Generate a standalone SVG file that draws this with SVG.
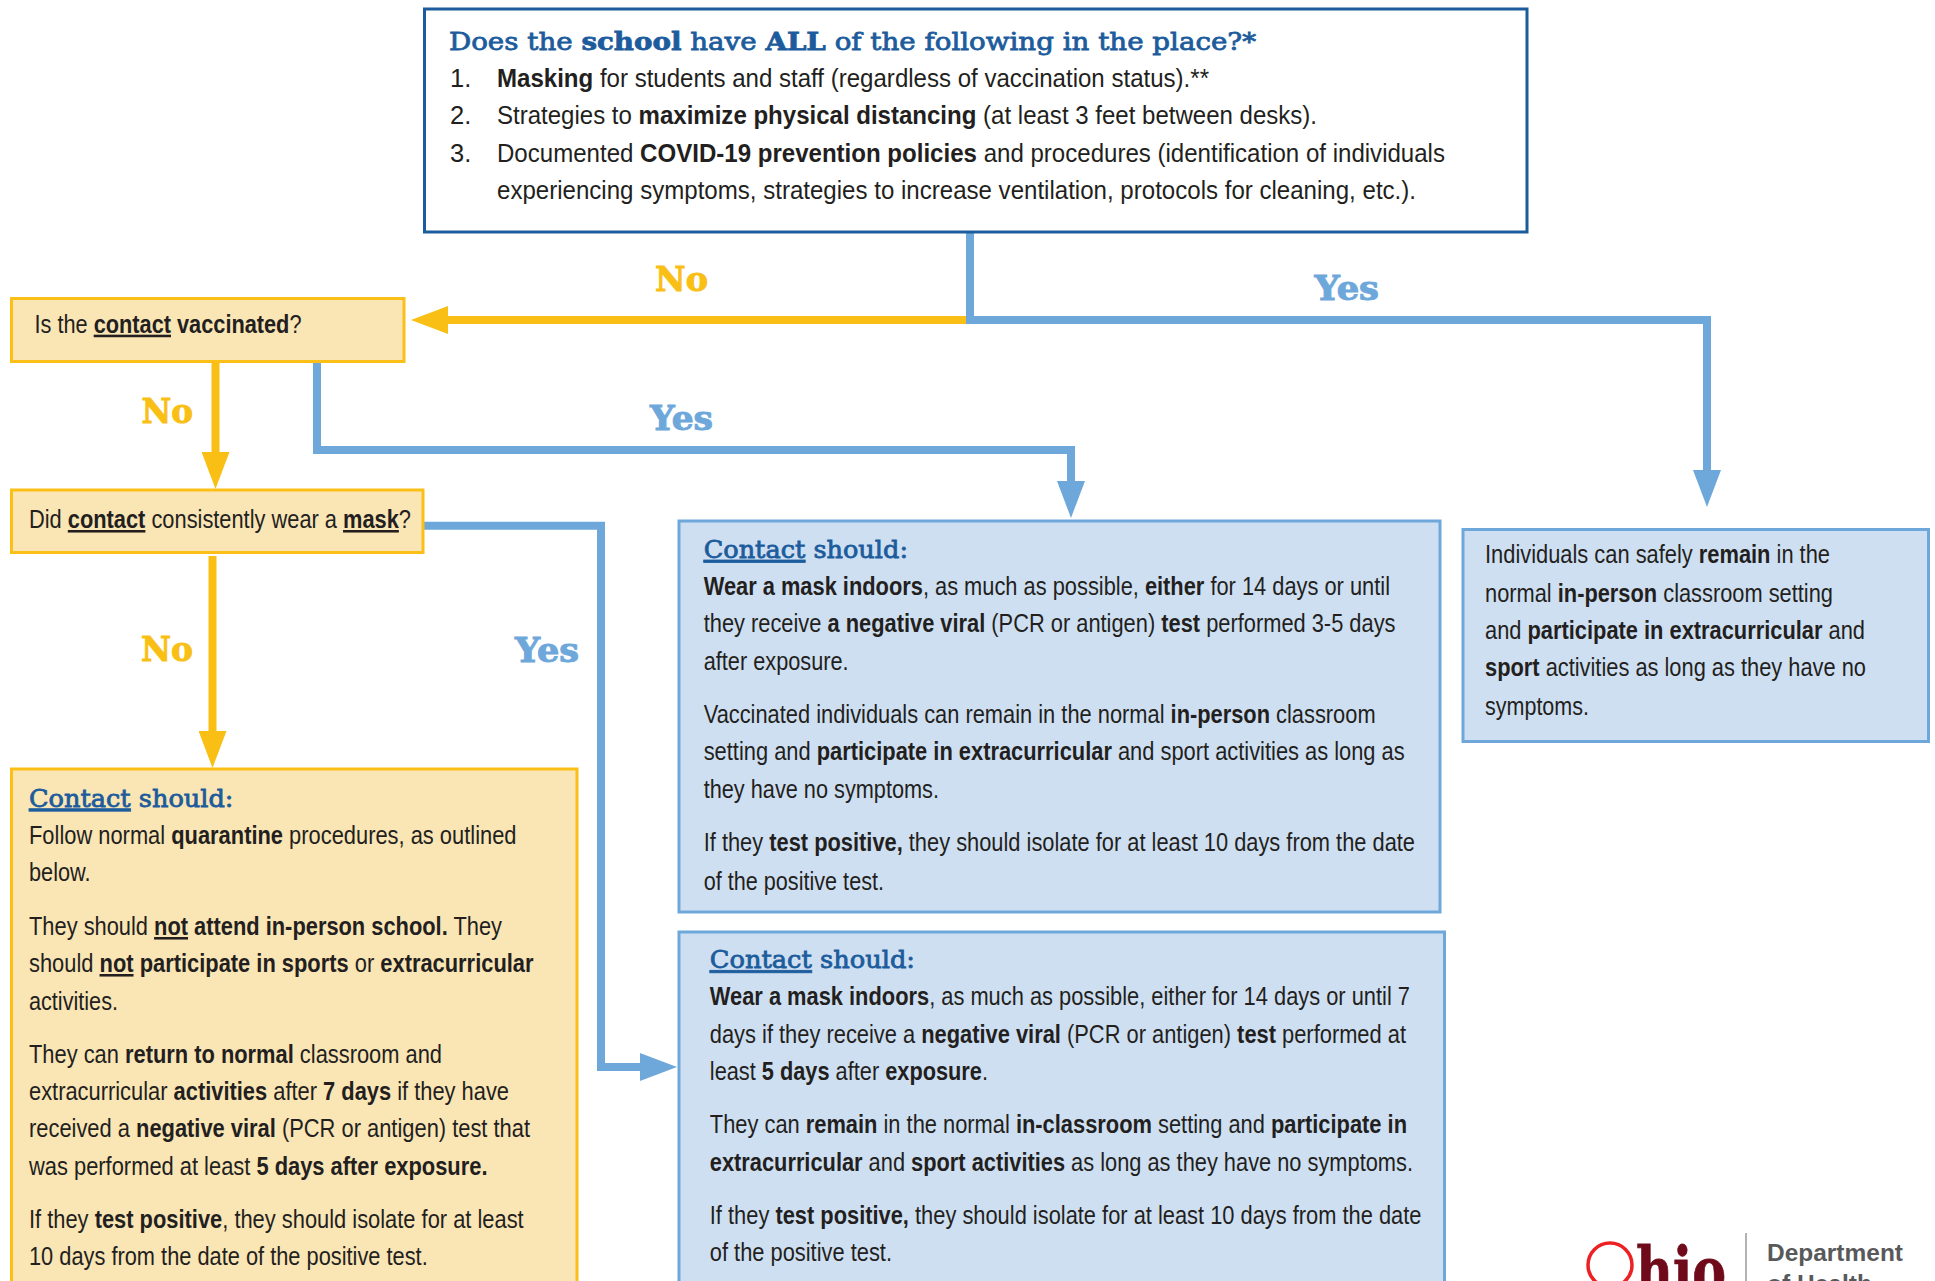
<svg xmlns="http://www.w3.org/2000/svg" width="1935" height="1281" viewBox="0 0 1935 1281">
<style>
text{font-family:"Liberation Sans",Arial,sans-serif;font-size:25.5px;fill:#231f20}
.b{font-weight:700}
.u{text-decoration:underline}
.head{font-family:"DejaVu Serif",serif;font-size:25px;fill:#1c5c9c;font-weight:400;stroke:#1c5c9c;stroke-width:.8}
.head .b{font-weight:700}
.lab{font-family:"DejaVu Serif",serif;font-weight:700;font-size:34px;stroke-width:1}
.ly{fill:#f9bf15;stroke:#f9bf15}
.lb{fill:#6ea8db;stroke:#6ea8db}
.yb{fill:#fae5b5;stroke:#fbbf17;stroke-width:3}
.bb{fill:#cfdff2;stroke:#6ea8db;stroke-width:3}
.cy{fill:none;stroke:#f9bf15;stroke-width:8}
.cb{fill:none;stroke:#6ea8db;stroke-width:8}
</style>
<defs>
<marker id="ay" markerUnits="userSpaceOnUse" markerWidth="37" markerHeight="28" refX="0" refY="14" orient="auto"><path d="M0,0 L37,14 L0,28 Z" fill="#f9bf15"/></marker>
<marker id="ab" markerUnits="userSpaceOnUse" markerWidth="37" markerHeight="28" refX="0" refY="14" orient="auto"><path d="M0,0 L37,14 L0,28 Z" fill="#6ea8db"/></marker>
</defs>
<rect width="1935" height="1281" fill="#fff"/>

<g id="connectors">
<path class="cb" d="M970,232 V320"/>
<path class="cy" d="M966,320 H448" marker-end="url(#ay)"/>
<path class="cb" d="M966,320 H1707 V470" marker-end="url(#ab)"/>
<path class="cy" d="M215.500,362 V452" marker-end="url(#ay)"/>
<path class="cb" d="M317,362 V450 H1071 V481" marker-end="url(#ab)"/>
<path class="cy" d="M212.500,556 V731" marker-end="url(#ay)"/>
<path class="cb" d="M424,525.700 H601 V1067 H640" marker-end="url(#ab)"/>
<text class="lab ly" x="655" y="290.700" textLength="53" lengthAdjust="spacingAndGlyphs">No</text>
<text class="lab lb" x="1314.500" y="300" textLength="64.500" lengthAdjust="spacingAndGlyphs">Yes</text>
<text class="lab ly" x="141.500" y="422.700" textLength="51.500" lengthAdjust="spacingAndGlyphs">No</text>
<text class="lab lb" x="650" y="430" textLength="63" lengthAdjust="spacingAndGlyphs">Yes</text>
<text class="lab ly" x="141" y="660.700" textLength="52" lengthAdjust="spacingAndGlyphs">No</text>
<text class="lab lb" x="515" y="661.700" textLength="64" lengthAdjust="spacingAndGlyphs">Yes</text>
</g>

<g id="node-school">
<rect x="424.500" y="9" width="1102.500" height="223" fill="#fff" stroke="#1c5c9c" stroke-width="3"/>
<text class="head" x="449" y="50" textLength="807" lengthAdjust="spacingAndGlyphs">Does the <tspan class="b">school</tspan> have <tspan class="b">ALL</tspan> of the following in the place?*</text>
<text x="450" y="86.700">1.</text>
<text x="497" y="86.700" textLength="712" lengthAdjust="spacingAndGlyphs"><tspan class="b">Masking</tspan> for students and staff (regardless of vaccination status).**</text>
<text x="450" y="124">2.</text>
<text x="497" y="124" textLength="820" lengthAdjust="spacingAndGlyphs">Strategies to <tspan class="b">maximize physical distancing</tspan> (at least 3 feet between desks).</text>
<text x="450" y="161.700">3.</text>
<text x="497" y="161.700" textLength="948" lengthAdjust="spacingAndGlyphs">Documented <tspan class="b">COVID-19 prevention policies</tspan> and procedures (identification of individuals</text>
<text x="497" y="198.500" textLength="919" lengthAdjust="spacingAndGlyphs">experiencing symptoms, strategies to increase ventilation, protocols for cleaning, etc.).</text>
</g>

<g id="node-vaccinated">
<rect class="yb" x="11.500" y="298.500" width="392.500" height="63"/>
<text x="34.500" y="332.700" textLength="267" lengthAdjust="spacingAndGlyphs">Is the <tspan class="b u">contact</tspan> <tspan class="b">vaccinated</tspan>?</text>
</g>

<g id="node-mask">
<rect class="yb" x="11.500" y="490" width="411.500" height="62.500"/>
<text x="29" y="528" textLength="382" lengthAdjust="spacingAndGlyphs">Did <tspan class="b u">contact</tspan> consistently wear a <tspan class="b u">mask</tspan>?</text>
</g>

<g id="node-quarantine">
<rect class="yb" x="11.500" y="769" width="565.500" height="540"/>
<text class="head" x="29" y="806.700" textLength="204.500" lengthAdjust="spacingAndGlyphs"><tspan class="u">Contact</tspan> should:</text>
<text x="29" y="844" textLength="487.500" lengthAdjust="spacingAndGlyphs">Follow normal <tspan class="b">quarantine</tspan> procedures, as outlined</text>
<text x="29" y="880.700" textLength="61.600" lengthAdjust="spacingAndGlyphs">below.</text>
<text x="29" y="935" textLength="473" lengthAdjust="spacingAndGlyphs">They should <tspan class="b u">not</tspan> <tspan class="b">attend in-person school.</tspan> They</text>
<text x="29" y="972" textLength="504.500" lengthAdjust="spacingAndGlyphs">should <tspan class="b u">not</tspan> <tspan class="b">participate in sports</tspan> or <tspan class="b">extracurricular</tspan></text>
<text x="29" y="1009.500" textLength="89" lengthAdjust="spacingAndGlyphs">activities.</text>
<text x="29" y="1062.700" textLength="413" lengthAdjust="spacingAndGlyphs">They can <tspan class="b">return to normal</tspan> classroom and</text>
<text x="29" y="1099.700" textLength="480" lengthAdjust="spacingAndGlyphs">extracurricular <tspan class="b">activities</tspan> after <tspan class="b">7 days</tspan> if they have</text>
<text x="29" y="1137" textLength="501" lengthAdjust="spacingAndGlyphs">received a <tspan class="b">negative viral</tspan> (PCR or antigen) test that</text>
<text x="29" y="1175" textLength="458.500" lengthAdjust="spacingAndGlyphs">was performed at least <tspan class="b">5 days after exposure.</tspan></text>
<text x="29" y="1227.700" textLength="494.700" lengthAdjust="spacingAndGlyphs">If they <tspan class="b">test positive</tspan>, they should isolate for at least</text>
<text x="29" y="1265" textLength="398.700" lengthAdjust="spacingAndGlyphs">10 days from the date of the positive test.</text>
</g>

<g id="node-vaccinated-advice">
<rect class="bb" x="679" y="521" width="761" height="391"/>
<text class="head" x="703.700" y="558" textLength="204.300" lengthAdjust="spacingAndGlyphs"><tspan class="u">Contact</tspan> should:</text>
<text x="703.700" y="595" textLength="686.300" lengthAdjust="spacingAndGlyphs"><tspan class="b">Wear a mask indoors</tspan>, as much as possible, <tspan class="b">either</tspan> for 14 days or until</text>
<text x="703.700" y="631.700" textLength="691.800" lengthAdjust="spacingAndGlyphs">they receive <tspan class="b">a negative viral</tspan> (PCR or antigen) <tspan class="b">test</tspan> performed 3-5 days</text>
<text x="703.700" y="670" textLength="144.900" lengthAdjust="spacingAndGlyphs">after exposure.</text>
<text x="703.700" y="722.700" textLength="671.900" lengthAdjust="spacingAndGlyphs">Vaccinated individuals can remain in the normal <tspan class="b">in-person</tspan> classroom</text>
<text x="703.700" y="760" textLength="701" lengthAdjust="spacingAndGlyphs">setting and <tspan class="b">participate in extracurricular</tspan> and sport activities as long as</text>
<text x="703.700" y="797.700" textLength="235.300" lengthAdjust="spacingAndGlyphs">they have no symptoms.</text>
<text x="703.700" y="850.700" textLength="711.300" lengthAdjust="spacingAndGlyphs">If they <tspan class="b">test positive,</tspan> they should isolate for at least 10 days from the date</text>
<text x="703.700" y="889.500" textLength="180.300" lengthAdjust="spacingAndGlyphs">of the positive test.</text>
</g>

<g id="node-masked-advice">
<rect class="bb" x="679" y="932" width="765.500" height="380"/>
<text class="head" x="709.800" y="968.300" textLength="205.200" lengthAdjust="spacingAndGlyphs"><tspan class="u">Contact</tspan> should:</text>
<text x="709.800" y="1005" textLength="700.200" lengthAdjust="spacingAndGlyphs"><tspan class="b">Wear a mask indoors</tspan>, as much as possible, either for 14 days or until 7</text>
<text x="709.800" y="1042.700" textLength="696.200" lengthAdjust="spacingAndGlyphs">days if they receive a <tspan class="b">negative viral</tspan> (PCR or antigen) <tspan class="b">test</tspan> performed at</text>
<text x="709.800" y="1080" textLength="278.200" lengthAdjust="spacingAndGlyphs">least <tspan class="b">5 days</tspan> after <tspan class="b">exposure</tspan>.</text>
<text x="709.800" y="1132.700" textLength="697.200" lengthAdjust="spacingAndGlyphs">They can <tspan class="b">remain</tspan> in the normal <tspan class="b">in-classroom</tspan> setting and <tspan class="b">participate in</tspan></text>
<text x="709.800" y="1170.700" textLength="703.200" lengthAdjust="spacingAndGlyphs"><tspan class="b">extracurricular</tspan> and <tspan class="b">sport activities</tspan> as long as they have no symptoms.</text>
<text x="709.800" y="1223.700" textLength="711.700" lengthAdjust="spacingAndGlyphs">If they <tspan class="b">test positive,</tspan> they should isolate for at least 10 days from the date</text>
<text x="709.800" y="1260.700" textLength="182.200" lengthAdjust="spacingAndGlyphs">of the positive test.</text>
</g>

<g id="node-safe">
<rect class="bb" x="1463" y="529.500" width="465.500" height="212"/>
<text x="1485" y="563.300" textLength="345" lengthAdjust="spacingAndGlyphs">Individuals can safely <tspan class="b">remain</tspan> in the</text>
<text x="1485" y="601.700" textLength="348" lengthAdjust="spacingAndGlyphs">normal <tspan class="b">in-person</tspan> classroom setting</text>
<text x="1485" y="638.500" textLength="380" lengthAdjust="spacingAndGlyphs">and <tspan class="b">participate in extracurricular</tspan> and</text>
<text x="1485" y="675.700" textLength="381" lengthAdjust="spacingAndGlyphs"><tspan class="b">sport</tspan> activities as long as they have no</text>
<text x="1485" y="714.500" textLength="104" lengthAdjust="spacingAndGlyphs">symptoms.</text>
</g>

<g id="logo">
<circle cx="1610" cy="1265" r="22" fill="none" stroke="#ed2024" stroke-width="3.500"/>
<text x="1636" y="1294" textLength="90" lengthAdjust="spacingAndGlyphs" style="font-family:'DejaVu Serif',serif;font-weight:700;font-size:66px;fill:#6f0a1a;stroke:#6f0a1a;stroke-width:.8">hio</text>
<line x1="1746" y1="1233" x2="1746" y2="1281" stroke="#999" stroke-width="1.500"/>
<text x="1767" y="1261" textLength="136" lengthAdjust="spacingAndGlyphs" style="font-weight:700;font-size:24.500px;fill:#58595b">Department</text>
<text x="1767" y="1291.500" textLength="105" lengthAdjust="spacingAndGlyphs" style="font-weight:700;font-size:24.500px;fill:#58595b">of Health</text>
</g>
</svg>
